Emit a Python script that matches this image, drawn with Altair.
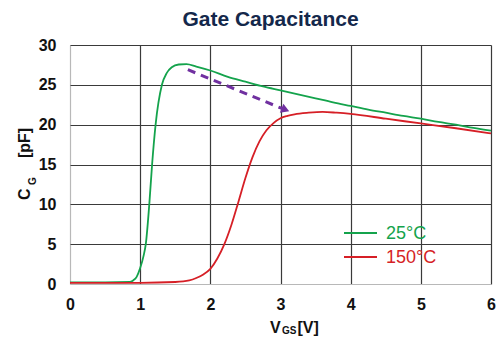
import altair as alt
import pandas as pd

# ---- data ----
v25 = [0.0, 0.5, 0.85, 0.9, 0.95, 1.0, 1.05, 1.08, 1.13, 1.17, 1.22, 1.31, 1.38, 1.45, 1.55, 1.66,
       1.8, 2.0, 2.25, 2.5, 2.75, 3.0, 3.25, 3.5, 3.75, 4.0, 4.25, 4.5, 4.75, 5.0, 5.25, 5.5, 5.75, 6.0]
c25 = [0.2, 0.2, 0.25, 0.45, 0.9, 2.0, 3.6, 5.0, 10.0, 15.0, 20.0, 25.0, 26.5, 27.2, 27.55, 27.6,
       27.3, 26.8, 26.0, 25.4, 24.8, 24.3, 23.8, 23.3, 22.8, 22.35, 21.9, 21.5, 21.1, 20.75, 20.35, 20.0, 19.6, 19.25]
v150 = [0.0, 1.0, 1.5, 1.7, 1.8, 1.9, 2.0, 2.1, 2.2, 2.3, 2.4, 2.5, 2.6, 2.7, 2.8, 2.9, 3.0,
        3.1, 3.2, 3.4, 3.6, 3.8, 4.0, 4.5, 5.0, 5.5, 6.0]
c150 = [0.15, 0.15, 0.25, 0.45, 0.75, 1.2, 1.9, 3.2, 5.0, 7.4, 10.3, 13.3, 15.9, 17.9, 19.3, 20.2, 20.8,
        21.1, 21.3, 21.5, 21.6, 21.5, 21.35, 20.75, 20.15, 19.55, 18.9]
series = ["25°C", "150°C"]
colors = ["#14a34c", "#d61f26"]
arrow_v = [1.68, 3.03]
arrow_c = [26.9, 22.0]
head_v = [3.07]
head_c = [21.87]
x_ticks = [0, 1, 2, 3, 4, 5, 6]
y_ticks = [0, 5, 10, 15, 20, 25, 30]

FONT = "Liberation Sans"

df = pd.concat([
    pd.DataFrame({"v": v25, "c": c25, "s": series[0]}),
    pd.DataFrame({"v": v150, "c": c150, "s": series[1]}),
])
arrow_df = pd.DataFrame({"v": arrow_v, "c": arrow_c})
head_df = pd.DataFrame({"v": head_v, "c": head_c})
one = pd.DataFrame({"k": [0]})

grid_col = alt.condition("datum.value === 0", alt.value("#b8b8b8"), alt.value("#3a3a3a"))

common = dict(grid=True, gridColor=grid_col, gridWidth=1.2, gridOpacity=1, ticks=False, domain=False,
              labelFont=FONT, labelFontSize=16, labelFontWeight="bold", labelColor="#111",
              labelFlush=False, labelOverlap=False, format="d", title=None)
xenc = alt.X("v:Q", scale=alt.Scale(domain=[0, 6], nice=False, zero=False),
             axis=alt.Axis(values=x_ticks, labelPadding=12, **common))
yenc = alt.Y("c:Q", scale=alt.Scale(domain=[0, 30], nice=False),
             axis=alt.Axis(values=y_ticks, labelPadding=14, **common))

lines = alt.Chart(df).mark_line(strokeWidth=1.8, interpolate="monotone").encode(
    x=xenc, y=yenc,
    color=alt.Color("s:N", scale=alt.Scale(domain=series, range=colors), legend=None),
    detail="s:N",
)

arrow = alt.Chart(arrow_df).mark_line(color="#7030a0", strokeWidth=3, strokeDash=[8, 6]).encode(
    x=xenc, y=yenc)
head = alt.Chart(head_df).mark_point(shape="triangle-right", filled=True, color="#7030a0",
                                     size=90, angle=22, opacity=1).encode(x=xenc, y=yenc)

leg = []
for i, (name, col) in enumerate(zip(series, colors)):
    yy = 188 + 24 * i
    leg.append(alt.Chart(one).mark_rule(color=col, strokeWidth=1.8).encode(
        x=alt.value(274), x2=alt.value(307), y=alt.value(yy)))
    leg.append(alt.Chart(one).mark_text(text=name, color=col, font=FONT, fontSize=18,
                                        align="left", baseline="middle").encode(
        x=alt.value(316), y=alt.value(yy + 1)))

def txt(t, x, y, size, angle=0, align="left"):
    return alt.Chart(one).mark_text(text=t, font=FONT, fontSize=size, fontWeight="bold",
                                    color="#111", align=align, baseline="middle",
                                    angle=angle).encode(x=alt.value(x), y=alt.value(y))

titles = [
    txt("V", 200, 283, 16), txt("GS", 212, 285.5, 10), txt("[V]", 227.5, 283, 16),
    txt("C", -45, 155, 16, 270), txt("G", -37, 140, 10, 270), txt("[pF]", -45, 113, 16, 270),
]

chart = alt.layer(lines, arrow, head, *leg, *titles).properties(
    width=421, height=239,
    padding={"left": 70, "top": 45, "right": 8, "bottom": 59},
    autosize="none",
    title=alt.TitleParams("Gate Capacitance", font=FONT, fontSize=21, fontWeight="bold",
                          color="#14284b", anchor="middle", offset=7, dx=-10),
).configure_view(strokeWidth=0).configure(background="white")

chart.save("out.html", embed_options={"renderer": "svg", "actions": False})
